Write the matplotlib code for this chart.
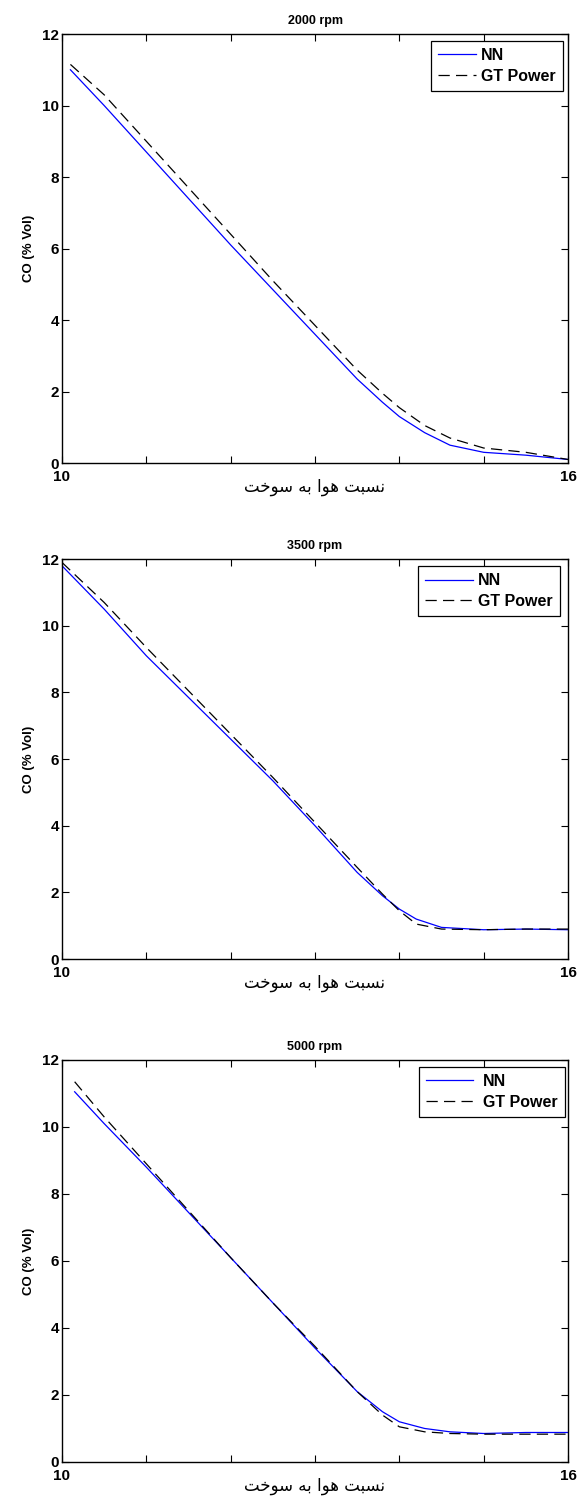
import matplotlib
matplotlib.use("Agg")
import matplotlib.pyplot as plt

plt.rcParams['font.family'] = ['Liberation Sans', 'DejaVu Sans']

# --- Data: CO emission vs air-fuel ratio at three engine speeds ---
speeds = ["2000 rpm", "3500 rpm", "5000 rpm"]

afr_2000 = [10.1, 10.5, 11.0, 11.5, 12.0, 12.5, 13.0, 13.5, 13.8, 14.0, 14.3, 14.6, 15.0, 15.5, 16.0]
nn_2000 = [11.0, 10.0, 8.7, 7.4, 6.1, 4.85, 3.6, 2.35, 1.7, 1.3, 0.85, 0.5, 0.3, 0.22, 0.1]
gt_2000 = [11.15, 10.3, 9.0, 7.7, 6.4, 5.1, 3.85, 2.6, 1.95, 1.55, 1.05, 0.7, 0.42, 0.3, 0.1]

afr_3500 = [10.0, 10.5, 11.0, 11.5, 12.0, 12.5, 13.0, 13.5, 13.8, 14.0, 14.2, 14.5, 15.0, 15.5, 16.0]
nn_3500 = [11.8, 10.5, 9.1, 7.85, 6.6, 5.35, 4.0, 2.6, 1.9, 1.5, 1.2, 0.95, 0.88, 0.9, 0.88]
gt_3500 = [11.9, 10.7, 9.35, 8.05, 6.75, 5.45, 4.1, 2.75, 1.95, 1.45, 1.05, 0.9, 0.88, 0.9, 0.9]

afr_5000 = [10.15, 10.5, 11.0, 11.5, 12.0, 12.5, 13.0, 13.5, 13.8, 14.0, 14.3, 14.6, 15.0, 15.5, 16.0]
nn_5000 = [11.05, 10.1, 8.8, 7.45, 6.1, 4.75, 3.4, 2.1, 1.5, 1.2, 1.0, 0.9, 0.85, 0.88, 0.88]
gt_5000 = [11.35, 10.3, 8.9, 7.5, 6.1, 4.75, 3.45, 2.1, 1.4, 1.05, 0.9, 0.85, 0.83, 0.83, 0.83]

series = [
    (afr_2000, nn_2000, gt_2000),
    (afr_3500, nn_3500, gt_3500),
    (afr_5000, nn_5000, gt_5000),
]

y_ticks = [0, 2, 4, 6, 8, 10, 12]
x_ticks = [10, 11, 12, 13, 14, 15, 16]
x_tick_labels = ["10", "", "", "", "", "", "16"]
x_label = "نسبت هوا به سوخت"
y_label = "CO (% Vol)"
legend_labels = ["NN", "GT Power"]

# --- Minimal Persian shaping (matplotlib has no bidi / joining support) ---
# letter: (isolated, final, initial, medial)
FORMS = {
    "ن": ("\uFEE5", "\uFEE6", "\uFEE7", "\uFEE8"),
    "س": ("\uFEB1", "\uFEB2", "\uFEB3", "\uFEB4"),
    "ب": ("\uFE8F", "\uFE90", "\uFE91", "\uFE92"),
    "ت": ("\uFE95", "\uFE96", "\uFE97", "\uFE98"),
    "ه": ("\uFEE9", "\uFEEA", "\uFEEB", "\uFEEC"),
    "خ": ("\uFEA5", "\uFEA6", "\uFEA7", "\uFEA8"),
    "و": ("\uFEED", "\uFEEE", "\uFEED", "\uFEEE"),
    "ا": ("\uFE8D", "\uFE8E", "\uFE8D", "\uFE8E"),
}
NON_JOINING = {"و", "ا"}


def shape_fa(text):
    out = []
    for i, ch in enumerate(text):
        if ch not in FORMS:
            out.append(ch)
            continue
        prev = text[i - 1] if i > 0 else " "
        nxt = text[i + 1] if i + 1 < len(text) else " "
        join_prev = prev in FORMS and prev not in NON_JOINING
        join_next = nxt in FORMS and ch not in NON_JOINING
        if join_prev and join_next:
            out.append(FORMS[ch][3])
        elif join_prev:
            out.append(FORMS[ch][1])
        elif join_next:
            out.append(FORMS[ch][2])
        else:
            out.append(FORMS[ch][0])
    return "".join(reversed(out))


fig = plt.figure(figsize=(5.86, 14.99), dpi=100)

# axes boxes in figure fraction: left, bottom, width, height
boxes = [
    [0.1058, 0.6911, 0.8635, 0.2862],
    [0.1058, 0.3602, 0.8635, 0.2668],
    [0.1058, 0.0247, 0.8635, 0.2682],
]
legend_anchors = [(0.990, 0.984), (0.984, 0.9825), (0.994, 0.983)]
handle_lengths = [2.4, 3.0, 2.9]
text_pads = [0.3, 0.3, 0.65]

for i, (box, title, (afr, nn, gt)) in enumerate(zip(boxes, speeds, series)):
    ax = fig.add_axes(box)
    ax.plot(afr, nn, color="#0000ff", linewidth=0.9, label=legend_labels[0])
    ax.plot(afr, gt, color="black", linewidth=0.9, linestyle=(0, (9, 5)), label=legend_labels[1])

    ax.set_xlim(10, 16)
    ax.set_ylim(0, 12)
    ax.set_xticks(x_ticks)
    ax.set_xticklabels(x_tick_labels)
    ax.set_yticks(y_ticks)
    ax.tick_params(direction="in", top=True, right=True, length=5, width=0.8,
                   labelsize=11)
    ax.tick_params(axis="x", pad=5)
    ax.tick_params(axis="y", pad=2)
    for lbl in ax.get_xticklabels() + ax.get_yticklabels():
        lbl.set_fontweight("bold")
    for sp in ax.spines.values():
        sp.set_linewidth(1.0)

    ax.set_title(title, fontsize=9, fontweight="bold", pad=7)
    ax.set_ylabel(y_label, fontsize=9.5, fontweight="bold", labelpad=5)
    ax.set_xlabel(shape_fa(x_label), fontsize=12, family=["DejaVu Sans"], labelpad=-4)

    leg = ax.legend(loc="upper right", bbox_to_anchor=legend_anchors[i], borderaxespad=0,
                    fancybox=False, edgecolor="black", framealpha=1,
                    handlelength=handle_lengths[i], borderpad=0.45, labelspacing=0.35,
                    handletextpad=text_pads[i], prop={"weight": "bold", "size": 11.5})
    leg.get_frame().set_linewidth(0.9)

fig.savefig("out.png", dpi=100)
